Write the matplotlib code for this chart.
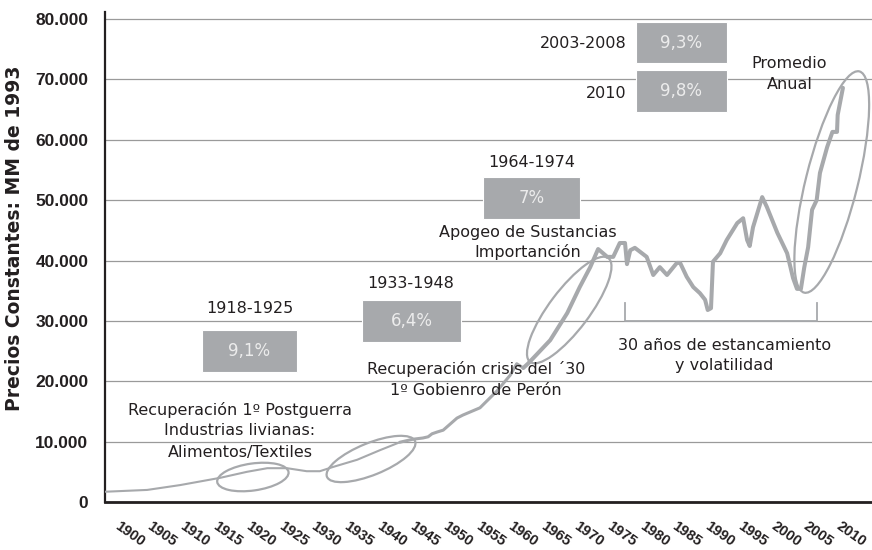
import matplotlib
matplotlib.use("Agg")
import matplotlib.pyplot as plt
from matplotlib.patches import Ellipse, Rectangle
from matplotlib.transforms import IdentityTransform, ScaledTranslation

# ---------------- data ----------------
years = [1898.2, 1904.6, 1909.6, 1915.7, 1919.8, 1922.9, 1925.9, 1928.9, 1930.9, 1932.9,
         1936.6, 1940.1, 1943.1, 1945.1, 1946.6, 1947.4, 1948.0, 1948.8, 1949.7, 1951.8,
         1952.7, 1955.3, 1957.9, 1959.9, 1960.9, 1961.9, 1962.6, 1964.0, 1966.0, 1968.6,
         1970.5, 1972.1, 1973.3, 1974.7, 1975.6, 1976.6, 1977.4, 1977.7, 1978.2, 1978.9,
         1980.7, 1981.7, 1982.7, 1983.8, 1985.3, 1985.8, 1986.8, 1987.8, 1988.8, 1989.6,
         1990.0, 1990.5, 1990.8, 1991.9, 1992.9, 1994.5, 1995.4, 1996.0, 1996.4, 1996.9,
         1998.3, 1999.0, 2000.6, 2002.1, 2003.0, 2003.6, 2004.2, 2004.7, 2005.3, 2005.9,
         2006.6, 2007.1, 2008.2, 2009.0, 2009.7, 2009.8, 2010.6]
values = [1700, 2000, 2800, 4000, 5000, 5600, 5600, 5100, 5100, 5800,
          7000, 8600, 9900, 10400, 10600, 10800, 11300, 11600, 11900, 13900,
          14400, 15600, 18400, 21000, 22900, 22200, 22900, 24500, 26800, 31300,
          35600, 38900, 41900, 40600, 40600, 42900, 42900, 39400, 41700, 42100,
          40600, 37600, 38900, 37600, 39600, 39600, 37300, 35600, 34600, 33500,
          31800, 32100, 39800, 41200, 43400, 46200, 47000, 43400, 42400, 45500,
          50500, 48900, 44600, 41200, 37100, 35300, 35300, 38800, 42200, 48400,
          50000, 54500, 58800, 61300, 61300, 64100, 68600]

tick_years = list(range(1900, 2011, 5))
tick_labels = [str(y) for y in tick_years]
y_ticks = list(range(0, 80001, 10000))
y_tick_labels = ["0"] + [f"{v // 1000}.000" for v in y_ticks[1:]]

periods = ["1918-1925", "1933-1948", "1964-1974", "2003-2008", "2010"]
rates = ["9,1%", "6,4%", "7%", "9,3%", "9,8%"]

# ---------------- style ----------------
GREY = "#a7a9ac"
TXT = "#231f20"
W, H = 872, 550
fig = plt.figure(figsize=(W / 100, H / 100), dpi=100)
ax = fig.add_axes([105 / W, 48 / H, (872 - 105) / W, (502 - 12) / H])
ax.set_xlim(1898.17, 2015.03)
ax.set_ylim(0, 81160)

for s in ["top", "right"]:
    ax.spines[s].set_visible(False)
ax.spines["left"].set_linewidth(1.6)
ax.spines["bottom"].set_linewidth(2.0)
ax.spines["left"].set_color(TXT)
ax.spines["bottom"].set_color(TXT)

ax.set_yticks(y_ticks)
ax.set_yticklabels(y_tick_labels, fontfamily="Liberation Sans", fontweight="bold",
                   fontsize=12.5, color=TXT)
ax.tick_params(axis="y", length=0, pad=12)
ax.yaxis.grid(True, color="#9a9a9a", linewidth=0.9)
ax.set_axisbelow(True)

ax.set_xticks(tick_years)
ax.set_xticklabels(tick_labels, fontfamily="Liberation Sans", fontweight="bold",
                   fontsize=10.5, color=TXT)
ax.tick_params(axis="x", length=0, pad=12)
shift = ScaledTranslation(3 / 100, 0, fig.dpi_scale_trans)
for lab in ax.get_xticklabels():
    lab.set_rotation(-35)
    lab.set_ha("left")
    lab.set_va("top")
    lab.set_rotation_mode("anchor")
    lab.set_transform(lab.get_transform() + shift)

fig.text(15 / W, 1 - 238 / H, "Precios Constantes: MM de 1993", rotation=90,
         ha="center", va="center", fontfamily="DejaVu Sans", fontweight="bold",
         fontsize=13.5, color=TXT)

# ---------------- line ----------------
i1 = years.index(1943.1)
i2 = years.index(1961.9)
ax.plot(years[:i1 + 1], values[:i1 + 1], color=GREY, lw=1.5, solid_capstyle="round", zorder=3)
ax.plot(years[i1:i2 + 1], values[i1:i2 + 1], color=GREY, lw=2.2, solid_capstyle="round",
        solid_joinstyle="round", zorder=3)
ax.plot(years[i2:], values[i2:], color=GREY, lw=2.9, solid_capstyle="round",
        solid_joinstyle="round", zorder=3)

# ---------------- ellipses (centre in data units, size in pixels) ----------------
ellipses = [((1920.7, 4140), 72, 27, 8),
            ((1938.7, 7125), 95, 32, 22),
            ((1968.9, 31800), 130, 40, 53),
            ((2008.9, 53000), 228, 52, 76)]
for (cx, cy), w, h, ang in ellipses:
    e = Ellipse((0, 0), w, h, angle=ang, fill=False, ec=GREY, lw=1.6, zorder=4)
    e.set_transform(IdentityTransform() + ScaledTranslation(cx, cy, ax.transData))
    e.set_clip_on(False)
    ax.add_artist(e)

# ---------------- boxes ----------------
boxes = [(1912.95, 1927.4, 21530, 28490),
         (1937.3, 1952.4, 26500, 33460),
         (1955.8, 1970.5, 46870, 53830),
         (1979.1, 1992.9, 72710, 79500),
         (1979.1, 1992.9, 64600, 71550)]
for (x0, x1, y0, y1), r in zip(boxes, rates):
    ax.add_patch(Rectangle((x0, y0), x1 - x0, y1 - y0, facecolor=GREY, edgecolor="white",
                           lw=0.8, zorder=2))
    ax.text((x0 + x1) / 2, (y0 + y1) / 2, r, ha="center", va="center", color="#ececec",
            fontsize=12, fontfamily="DejaVu Sans", zorder=5)

kw = dict(fontsize=11.5, fontfamily="DejaVu Sans", color=TXT, va="center", zorder=6)
# period labels
ax.text(1920.3, 31970, periods[0], ha="center", **kw)
ax.text(1944.8, 36110, periods[1], ha="center", **kw)
ax.text(1963.2, 56310, periods[2], ha="center", **kw)
ax.text(1977.7, 75860, periods[3], ha="right", **kw)
ax.text(1977.7, 67580, periods[4], ha="right", **kw)

# descriptions
ax.text(1918.74, 15240, "Recuperación 1º Postguerra", ha="center", **kw)
ax.text(1918.74, 11760, "Industrias livianas:", ha="center", **kw)
ax.text(1918.74, 8280, "Alimentos/Textiles", ha="center", **kw)
ax.text(1954.7, 22030, "Recuperación crisis del ´30", ha="center", **kw)
ax.text(1954.7, 18550, "1º Gobienro de Perón", ha="center", **kw)
ax.text(1962.6, 44720, "Apogeo de Sustancias", ha="center", **kw)
ax.text(1962.6, 41410, "Importanción", ha="center", **kw)
ax.text(2002.4, 72550, "Promedio", ha="center", **kw)
ax.text(2002.5, 69070, "Anual", ha="center", **kw)
ax.text(1992.5, 26000, "30 años de estancamiento", ha="center", **kw)
ax.text(1992.5, 22530, "y volatilidad", ha="center", **kw)

# bracket
bx0, bx1, by0, by1 = 1977.4, 2006.6, 30000, 33000
ax.plot([bx0, bx0, bx1, bx1], [by1, by0, by0, by1], color=GREY, lw=1.3, zorder=3)

fig.savefig("out.png", dpi=100)
